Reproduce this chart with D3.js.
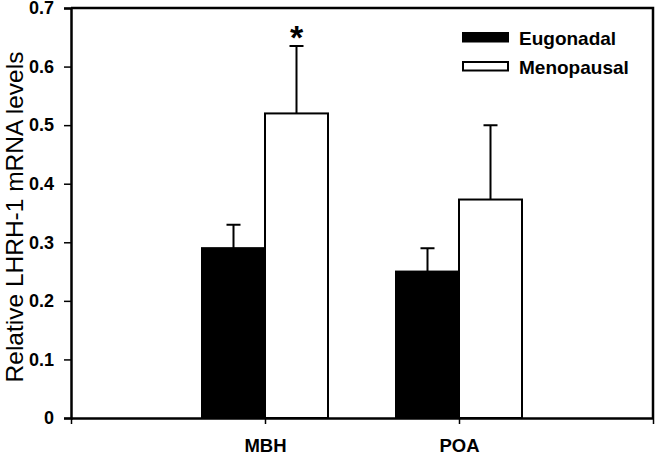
<!DOCTYPE html>
<html>
<head>
<meta charset="utf-8">
<script src="https://cdn.jsdelivr.net/npm/d3@7"></script>
<style>
  body { margin: 0; background: #fff; }
  svg { font-family: Arial, "Liberation Sans", sans-serif; }
</style>
</head>
<body>
<div class="chart"></div>
<script>
// data
const categories = ["MBH", "POA"];
const series = ["Eugonadal", "Menopausal"];
const eugonadal = [0.29, 0.25];
const eugonadalErr = [0.04, 0.04];
const menopausal = [0.52, 0.373];
const menopausalErr = [0.115, 0.127];
const yTicks = [0, 0.1, 0.2, 0.3, 0.4, 0.5, 0.6, 0.7];
const significant = [true, false]; // asterisk over menopausal bar

const width = 659, height = 453;
const marginTop = 8, marginRight = 6, marginBottom = 35, marginLeft = 71;
const innerW = width - marginLeft - marginRight;
const innerH = height - marginTop - marginBottom;

const svg = d3.select(".chart")
  .append("svg")
  .attr("width", width)
  .attr("height", height);

const g = svg.append("g")
  .attr("transform", `translate(${marginLeft},${marginTop})`);

// x: category slots at 1 and 2 on a 0..3 axis
const x = d3.scaleLinear().domain([0, 3]).range([0, innerW]);
const y = d3.scaleLinear().domain([0, 0.7]).range([innerH, 0]);
const sub = d3.scaleBand().domain(series).range([-63, 63]);

const rows = categories.map((c, i) => ({
  cat: c, idx: i + 1,
  bars: [
    { s: "Eugonadal", v: eugonadal[i], e: eugonadalErr[i], fill: "#000" },
    { s: "Menopausal", v: menopausal[i], e: menopausalErr[i], fill: "#fff" }
  ]
}));

// frame (top & right)
g.append("path")
  .attr("d", `M0,${y(0.7)}H${innerW}V${innerH}`)
  .attr("fill", "none")
  .attr("stroke", "#000")
  .attr("stroke-width", 2.5);

// error bars first so the bar stroke sits over them
const grp = g.selectAll(".cat").data(rows).join("g")
  .attr("transform", d => `translate(${x(d.idx)},0)`);

grp.selectAll(".err").data(d => d.bars).join("path")
  .attr("d", b => {
    const cx = sub(b.s) + sub.bandwidth() / 2;
    return `M${cx},${y(b.v)}V${y(b.v + b.e)}M${cx - 7},${y(b.v + b.e)}H${cx + 7}`;
  })
  .attr("stroke", "#000")
  .attr("stroke-width", 2)
  .attr("fill", "none");

grp.selectAll("rect").data(d => d.bars).join("rect")
  .attr("x", b => sub(b.s))
  .attr("y", b => y(b.v))
  .attr("width", sub.bandwidth())
  .attr("height", b => y(0) - y(b.v))
  .attr("fill", b => b.fill)
  .attr("stroke", "#000")
  .attr("stroke-width", 2);

// asterisk
grp.filter((d, i) => significant[i])
  .append("text")
  .attr("x", d => sub("Menopausal") + sub.bandwidth() / 2)
  .attr("y", d => y(d.bars[1].v + d.bars[1].e) + 3)
  .attr("text-anchor", "middle")
  .attr("font-size", 34)
  .attr("font-weight", "bold")
  .text("*");

// axes
const yAxis = g.append("g")
  .call(d3.axisLeft(y).tickValues(yTicks).tickSize(7).tickPadding(10)
    .tickFormat(d => d === 0 ? "0" : d3.format(".1f")(d)));
yAxis.select(".domain").attr("stroke-width", 2.5);
yAxis.selectAll(".tick line").attr("stroke-width", 1.5);
yAxis.selectAll("text")
  .attr("font-size", 18)
  .attr("font-weight", "bold")
  .attr("font-family", "Arial, 'Liberation Sans', sans-serif")
  .attr("fill", "#000");

const xAxis = g.append("g")
  .attr("transform", `translate(0,${innerH})`)
  .call(d3.axisBottom(x).tickValues([0, 1, 2, 3]).tickSize(6).tickSizeOuter(0).tickPadding(15)
    .tickFormat(d => categories[d - 1] || ""));
xAxis.select(".domain").attr("stroke-width", 2.5);
xAxis.selectAll(".tick line").attr("stroke-width", 1.5);
xAxis.selectAll("text")
  .attr("font-size", 18.5)
  .attr("font-weight", "bold")
  .attr("font-family", "Arial, 'Liberation Sans', sans-serif")
  .attr("fill", "#000");

// y label
svg.append("text")
  .attr("transform", `translate(23,217) rotate(-90)`)
  .attr("text-anchor", "middle")
  .attr("font-size", 24.5)
  .text("Relative LHRH-1 mRNA levels");

// legend
const legend = svg.append("g").attr("transform", "translate(463,33)");
const li = legend.selectAll("g").data(series).join("g")
  .attr("transform", (d, i) => `translate(0,${i * 29})`);
li.append("rect")
  .attr("width", 45).attr("height", 8.5)
  .attr("fill", (d, i) => i === 0 ? "#000" : "#fff")
  .attr("stroke", "#000").attr("stroke-width", 2);
li.append("text")
  .attr("x", 56).attr("y", 12)
  .attr("font-size", 19)
  .attr("font-weight", "bold")
  .text(d => d);
</script>
</body>
</html>
